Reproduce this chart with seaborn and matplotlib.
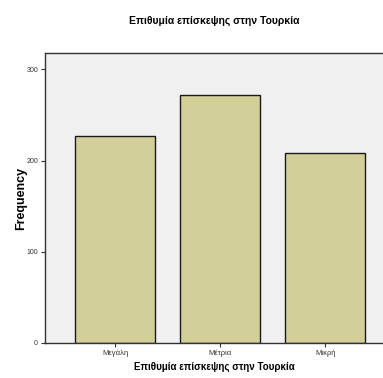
import matplotlib
matplotlib.use("Agg")
import matplotlib.pyplot as plt
import seaborn as sns

categories = ["Μεγάλη", "Μέτρια", "Μικρή"]
frequencies = [227, 272, 208]

sns.set_style("ticks")
plt.rcParams["font.family"] = ["Liberation Sans", "DejaVu Sans"]

fig = plt.figure(figsize=(3.83, 3.78), dpi=100)
ax = fig.add_axes([0.1175, 0.0926, 0.8825, 0.7674])
ax.set_facecolor("#f0f0f0")

sns.barplot(x=categories, y=frequencies, color="#d3cf99", saturation=1,
            width=0.76, edgecolor="#1a1a1a", linewidth=1.0, ax=ax)

ax.set_xlim(-0.667, 2.55)
ax.set_ylim(0, 318)
ax.set_yticks([0, 100, 200, 300])
ax.tick_params(axis="both", labelsize=5, length=3, width=0.8, pad=2, colors="#333333")
ax.tick_params(axis="x", labelsize=5.5)

for side in ["left", "bottom", "top"]:
    ax.spines[side].set_visible(True)
    ax.spines[side].set_color("#333333")
    ax.spines[side].set_linewidth(1.0)
ax.spines["right"].set_visible(False)

ax.set_ylabel("Frequency", fontsize=9, fontweight="bold", color="black")
ax.yaxis.set_label_coords(-0.053, 0.5)
ax.set_xlabel("Επιθυμία επίσκεψης στην Τουρκία", fontsize=7, fontweight="bold",
              labelpad=3, color="black")
fig.text(0.56, 0.945, "Επιθυμία επίσκεψης στην Τουρκία", ha="center", va="center",
         fontsize=7.5, fontweight="bold", color="black")

fig.savefig("out.png", dpi=100)
